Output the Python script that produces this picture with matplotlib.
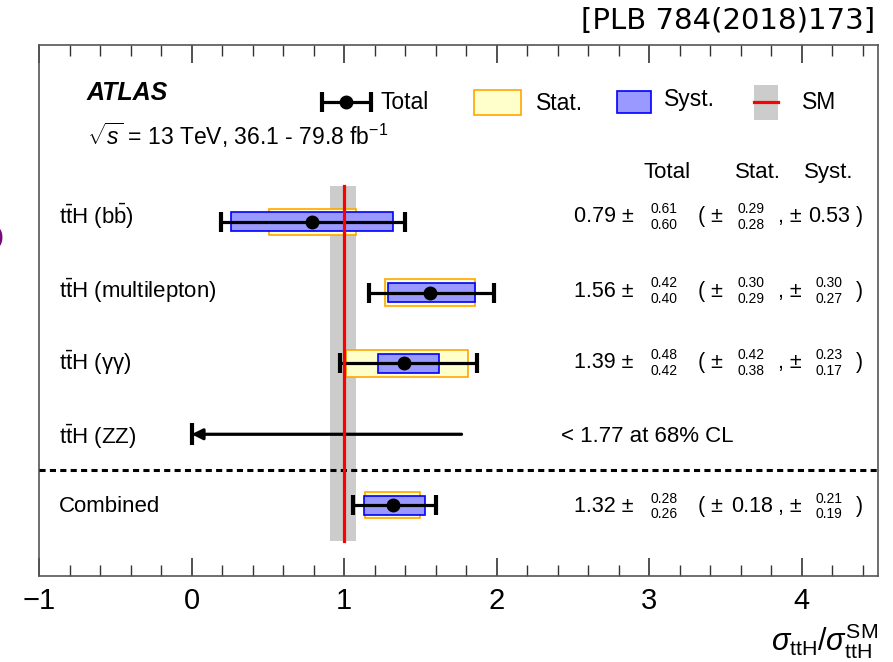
import numpy as np
import matplotlib
matplotlib.use("Agg")
import matplotlib.pyplot as plt
from matplotlib.patches import Rectangle

plt.rcParams['font.family'] = ['Liberation Sans', 'DejaVu Sans']
plt.rcParams['mathtext.fontset'] = 'custom'
plt.rcParams['mathtext.rm'] = 'Liberation Sans'
plt.rcParams['mathtext.it'] = 'Liberation Sans:italic'
plt.rcParams['mathtext.bf'] = 'Liberation Sans:bold'

# channels, top to bottom
labels = [r"$\mathrm{t\bar{t}H\ (b\bar{b})}$",
          r"$\mathrm{t\bar{t}H\ (multilepton)}$",
          r"$\mathrm{t\bar{t}H\ (\gamma\gamma)}$",
          r"$\mathrm{t\bar{t}H\ (ZZ)}$",
          "Combined"]
rows = [5, 4, 3, 2, 1]
text_dy = [0.07, 0.02, 0.01, -0.03, -0.02]  # small vertical nudge of the texts

# measured channels (bb, multilepton, gamgam, combined)
meas_rows = [5, 4, 3, 1]
meas_dy = [0.07, 0.02, 0.01, -0.02]
mu = np.array([0.79, 1.56, 1.39, 1.32])
tot_up = np.array([0.61, 0.42, 0.48, 0.28])
tot_dn = np.array([0.60, 0.40, 0.42, 0.26])
stat_up = np.array([0.29, 0.30, 0.42, 0.18])
stat_dn = np.array([0.28, 0.29, 0.38, 0.18])
syst_up = np.array([0.53, 0.30, 0.23, 0.21])
syst_dn = np.array([0.53, 0.27, 0.17, 0.19])

# ZZ upper limit
zz_row = 2
zz_limit = 1.77

# SM prediction band
sm_lo, sm_hi = 0.91, 1.08

fig = plt.figure(figsize=(8.93, 6.62), dpi=100)
ax = fig.add_axes([0.0437, 0.130, 0.9395, 0.8025])
ax.set_xlim(-1, 4.5)
ax.set_ylim(0, 7.5)

# SM band + line
ax.fill_betweenx([0.5, 5.5], sm_lo, sm_hi, color='#cccccc', lw=0, zorder=1)
ax.plot([1, 1], [0.5, 5.5], color='red', lw=2.3, zorder=6)

# stat and syst boxes
my = np.array(meas_rows, dtype=float)
ax.barh(my, stat_up + stat_dn, left=mu - stat_dn, height=0.37,
        color='#ffffcc', edgecolor='#ffa500', lw=1.2, zorder=2)
ax.barh(my, syst_up + syst_dn, left=mu - syst_dn, height=0.27,
        color='#9999ff', edgecolor='#0000ff', lw=1.2, zorder=3)
ax.errorbar(mu, my, xerr=[tot_dn, tot_up], fmt='o', color='k', ms=9,
            lw=2.3, capsize=7.5, capthick=3, zorder=4)

# ZZ limit arrow
ax.annotate('', xy=(0, zz_row), xytext=(zz_limit, zz_row),
            arrowprops=dict(arrowstyle='-|>', lw=2.3, color='k',
                            mutation_scale=16, shrinkA=0, shrinkB=0), zorder=4)
ax.plot([0], [zz_row], marker='|', ms=16, mew=3, color='k', zorder=4)

# separator
ax.axhline(1.5, color='k', lw=2.2, ls=(0, (2.0, 1.4)), zorder=5)

# row labels
for lab, r, d in zip(labels, rows, text_dy):
    ax.text(-0.87, r + d, lab, fontsize=16, va='center', ha='left')

# numbers on the right
fs_big, fs_small = 15.5, 10
dy = 0.11


def stack(x, y, up, dn):
    ax.text(x, y + dy, f"{up:.2f}", fontsize=fs_small, ha='center', va='center')
    ax.text(x, y - dy, f"{dn:.2f}", fontsize=fs_small, ha='center', va='center')


for i, r in enumerate(meas_rows):
    y = r + meas_dy[i]
    ax.text(2.508, y, f"{mu[i]:.2f} \u00b1", fontsize=fs_big, va='center')
    stack(3.098, y, tot_up[i], tot_dn[i])
    ax.text(3.32, y, "( \u00b1", fontsize=fs_big, va='center')
    if stat_up[i] == stat_dn[i]:
        ax.text(3.536, y, f"{stat_up[i]:.2f}", fontsize=fs_big, va='center')
    else:
        stack(3.667, y, stat_up[i], stat_dn[i])
    ax.text(3.844, y, ", \u00b1", fontsize=fs_big, va='center')
    if syst_up[i] == syst_dn[i]:
        ax.text(4.04, y, f"{syst_up[i]:.2f}", fontsize=fs_big, va='center')
    else:
        stack(4.178, y, syst_up[i], syst_dn[i])
    ax.text(4.355, y, ")", fontsize=fs_big, va='center')

ax.text(2.423, zz_row - 0.03, f"< {zz_limit:.2f} at 68% CL", fontsize=16, va='center')

# column header
for x, t in zip([3.117, 3.713, 4.178], ["Total", "Stat.", "Syst."]):
    ax.text(x, 5.70, t, fontsize=16, ha='center', va='center')

# ATLAS label
ax.text(-0.69, 6.815, "ATLAS", fontsize=18, fontweight='bold', style='italic',
        va='center')
ax.text(-0.685, 6.22, r"$\sqrt{s}$ = 13 TeV, 36.1 - 79.8 fb$^{-1}$", fontsize=16.5,
        va='center')

# legend
ax.errorbar([1.015], [6.695], xerr=[[0.16], [0.16]], fmt='o', color='k', ms=9,
            lw=2.3, capsize=7.5, capthick=3)
ax.text(1.24, 6.69, "Total", fontsize=16.5, va='center')
ax.add_patch(Rectangle((1.85, 6.51), 0.31, 0.35, facecolor='#ffffcc',
                       edgecolor='#ffa500', lw=1.2))
ax.text(2.26, 6.67, "Stat.", fontsize=16.5, va='center')
ax.add_patch(Rectangle((2.79, 6.54), 0.22, 0.30, facecolor='#9999ff',
                       edgecolor='#0000ff', lw=1.2))
ax.text(3.10, 6.72, "Syst.", fontsize=16.5, va='center')
ax.add_patch(Rectangle((3.69, 6.44), 0.155, 0.49, facecolor='#cccccc', lw=0))
ax.plot([3.69, 3.845], [6.69, 6.69], color='red', lw=2.3)
ax.text(4.0, 6.68, "SM", fontsize=16.5, va='center')

# axes styling
ax.set_yticks([])
ax.set_xticks([-1, 0, 1, 2, 3, 4])
ax.set_xticklabels(["\u22121", "0", "1", "2", "3", "4"])
ax.xaxis.set_minor_locator(matplotlib.ticker.MultipleLocator(0.2))
ax.tick_params(axis='x', which='both', direction='in', top=True, labelsize=21,
               color='#333333', pad=8)
ax.tick_params(axis='x', which='major', length=13, width=1.2)
ax.tick_params(axis='x', which='minor', length=8, width=1.0)
for s in ax.spines.values():
    s.set_color('#555555')
    s.set_linewidth(1.2)

fig.text(0.983, 0.002, r"$\sigma_{\mathrm{ttH}}/\sigma_{\mathrm{ttH}}^{\mathrm{SM}}$",
         fontsize=22, ha='right', va='bottom')

fig.text(0.98, 0.968, "[PLB 784(2018)173]", fontsize=21, family='DejaVu Sans',
         ha='right', va='center')
fig.text(-0.012, 0.636, "D", fontsize=28, color='#7a0a7a', fontweight='bold',
         ha='center', va='center')

fig.savefig("out.png", dpi=100)
